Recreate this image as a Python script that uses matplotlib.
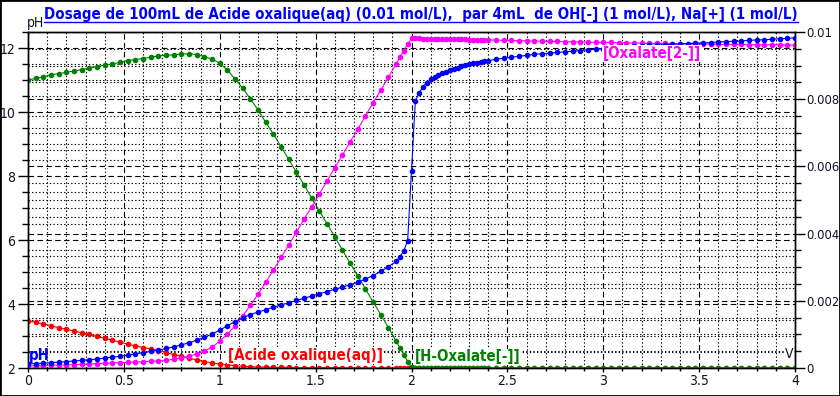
import matplotlib
matplotlib.use('Agg')
import matplotlib.pyplot as plt
from matplotlib.ticker import MultipleLocator, FixedLocator, FixedFormatter
from matplotlib.lines import Line2D
from matplotlib.patches import Rectangle

# volume de soude versé (mL)
V_ml = [0.0, 0.04, 0.08, 0.12, 0.16, 0.2, 0.24, 0.28, 0.32, 0.36,
        0.4, 0.44, 0.48, 0.52, 0.56, 0.6, 0.64, 0.68, 0.72, 0.76,
        0.8, 0.84, 0.88, 0.92, 0.96, 1.0, 1.04, 1.08, 1.12, 1.16,
        1.2, 1.24, 1.28, 1.32, 1.36, 1.4, 1.44, 1.48, 1.52, 1.56,
        1.6, 1.64, 1.68, 1.72, 1.76, 1.8, 1.84, 1.88,
        1.92, 1.94, 1.96, 1.98, 2.0, 2.02, 2.04, 2.06, 2.08, 2.1,
        2.12, 2.14, 2.16, 2.18, 2.2, 2.22, 2.24, 2.26, 2.28, 2.3,
        2.32, 2.34, 2.36, 2.38, 2.4,
        2.44, 2.48, 2.52, 2.56, 2.6, 2.64, 2.68, 2.72, 2.76, 2.8,
        2.84, 2.88, 2.92, 2.96, 3.0, 3.04, 3.08, 3.12, 3.16, 3.2,
        3.24, 3.28, 3.32, 3.36, 3.4, 3.44, 3.48, 3.52, 3.56, 3.6,
        3.64, 3.68, 3.72, 3.76, 3.8, 3.84, 3.88, 3.92, 3.96, 4.0]

ph = [2.13, 2.14, 2.15, 2.17, 2.18, 2.2, 2.22, 2.24, 2.26, 2.28,
      2.31, 2.34, 2.37, 2.4, 2.44, 2.48, 2.52, 2.56, 2.61, 2.66,
      2.72, 2.79, 2.87, 2.96, 3.06, 3.18, 3.32, 3.45, 3.57, 3.67,
      3.75, 3.82, 3.9, 3.97, 4.04, 4.11, 4.18, 4.25, 4.32, 4.39,
      4.46, 4.53, 4.6, 4.68, 4.78, 4.89, 5.02, 5.17,
      5.33, 5.48, 5.67, 5.98, 8.17, 10.34, 10.6, 10.79, 10.92, 11.02,
      11.1, 11.16, 11.21, 11.26, 11.31, 11.35, 11.39, 11.43, 11.46, 11.49,
      11.52, 11.54, 11.56, 11.58, 11.6,
      11.65, 11.68, 11.71, 11.74, 11.77, 11.8, 11.82, 11.84, 11.86, 11.88,
      11.9, 11.92, 11.94, 11.96, 11.98, 12.0, 12.02, 12.03, 12.05, 12.06,
      12.08, 12.09, 12.1, 12.12, 12.13, 12.14, 12.15, 12.16, 12.17, 12.19,
      12.2, 12.21, 12.22, 12.24, 12.25, 12.26, 12.27, 12.29, 12.3, 12.32]

# concentrations (mol/L)
c_acide = [0.00141, 0.00136, 0.00131, 0.00126, 0.0012, 0.00115, 0.0011, 0.00105, 0.001, 0.00094,
           0.00088, 0.00083, 0.00077, 0.00071, 0.00066, 0.00061, 0.00057, 0.00052, 0.00046, 0.0004,
           0.00035, 0.00029, 0.00024, 0.00019, 0.00015, 0.00012, 0.00009, 0.00007, 0.00005, 0.00004,
           0.00003, 0.00003, 0.00002, 0.00002, 0.00002, 0.00001, 0.00001, 0.00001, 0.00001, 0.00001,
           0.00001, 0.00001, 0.0, 0.0, 0.0, 0.0, 0.0, 0.0,
           0.0, 0.0, 0.0, 0.0, 0.0, 0.0, 0.0, 0.0, 0.0, 0.0,
           0.0, 0.0, 0.0, 0.0, 0.0, 0.0, 0.0, 0.0, 0.0, 0.0,
           0.0, 0.0, 0.0, 0.0, 0.0,
           0.0, 0.0, 0.0, 0.0, 0.0, 0.0, 0.0, 0.0, 0.0, 0.0,
           0.0, 0.0, 0.0, 0.0, 0.0, 0.0, 0.0, 0.0, 0.0, 0.0,
           0.0, 0.0, 0.0, 0.0, 0.0, 0.0, 0.0, 0.0, 0.0, 0.0,
           0.0, 0.0, 0.0, 0.0, 0.0, 0.0, 0.0, 0.0, 0.0, 0.0]

c_hox = [0.00857, 0.00862, 0.00866, 0.00873, 0.00876, 0.0088, 0.00884, 0.00888, 0.00893, 0.00897,
         0.00902, 0.00904, 0.0091, 0.00915, 0.00918, 0.00921, 0.00925, 0.00929, 0.00931, 0.00932,
         0.00935, 0.00935, 0.00933, 0.00927, 0.00919, 0.00907, 0.00887, 0.0086, 0.00832, 0.00801,
         0.00768, 0.00731, 0.00696, 0.00658, 0.00621, 0.00582, 0.00545, 0.00505, 0.00467, 0.00429,
         0.0039, 0.00351, 0.00312, 0.00274, 0.00235, 0.00197, 0.00158, 0.0012,
         0.0008, 0.0006, 0.0004, 0.00019, 0.00002, 0.0, 0.0, 0.0, 0.0, 0.0,
         0.0, 0.0, 0.0, 0.0, 0.0, 0.0, 0.0, 0.0, 0.0, 0.0,
         0.0, 0.0, 0.0, 0.0, 0.0,
         0.0, 0.0, 0.0, 0.0, 0.0, 0.0, 0.0, 0.0, 0.0, 0.0,
         0.0, 0.0, 0.0, 0.0, 0.0, 0.0, 0.0, 0.0, 0.0, 0.0,
         0.0, 0.0, 0.0, 0.0, 0.0, 0.0, 0.0, 0.0, 0.0, 0.0,
         0.0, 0.0, 0.0, 0.0, 0.0, 0.0, 0.0, 0.0, 0.0, 0.0]

c_ox = [0.00006, 0.00007, 0.00007, 0.00008, 0.00009, 0.00009, 0.0001, 0.00011, 0.00012, 0.00013,
        0.00014, 0.00015, 0.00016, 0.00017, 0.00018, 0.00019, 0.0002, 0.00021, 0.00023, 0.00026,
        0.0003, 0.00035, 0.00042, 0.0005, 0.00062, 0.0008, 0.00101, 0.00126, 0.00155, 0.00187,
        0.0022, 0.00255, 0.00292, 0.00329, 0.00366, 0.00405, 0.00443, 0.0048, 0.00518, 0.00557,
        0.00596, 0.00634, 0.00673, 0.00711, 0.0075, 0.0079, 0.00827, 0.00866,
        0.00905, 0.00925, 0.00944, 0.00964, 0.00981, 0.00981, 0.00981, 0.0098, 0.0098, 0.0098,
        0.0098, 0.00979, 0.00979, 0.00979, 0.00979, 0.00978, 0.00978, 0.00978, 0.00978, 0.00977,
        0.00977, 0.00977, 0.00977, 0.00976, 0.00976,
        0.00976, 0.00975, 0.00975, 0.00974, 0.00974, 0.00973, 0.00973, 0.00972, 0.00972, 0.00971,
        0.00971, 0.0097, 0.0097, 0.00969, 0.00969, 0.00969, 0.00968, 0.00968, 0.00967, 0.00967,
        0.00966, 0.00966, 0.00966, 0.00965, 0.00965, 0.00965, 0.00964, 0.00964, 0.00964, 0.00963,
        0.00963, 0.00963, 0.00963, 0.00962, 0.00962, 0.00962, 0.00962, 0.00962, 0.00961, 0.00961]

x_ticks = [0, 0.5, 1, 1.5, 2, 2.5, 3, 3.5, 4]
x_tick_labels = ['0', '0.5', '1', '1.5', '2', '2.5', '3', '3.5', '4']
ph_ticks = [2, 4, 6, 8, 10, 12]
c_ticks = [0, 0.002, 0.004, 0.006, 0.008, 0.01]
c_tick_labels = ['0', '0.002', '0.004', '0.006', '0.008', '0.01']

titre = 'Dosage de 100mL de Acide oxalique(aq) (0.01 mol/L),  par 4mL  de OH[-] (1 mol/L), Na[+] (1 mol/L)'

BLEU = '#0000ff'
ROUGE = '#ff0000'
VERT = '#008000'
MAGENTA = '#ff00ff'
ENCRE = '#10102a'

plt.rcParams['font.family'] = ['DejaVu Sans']
plt.rcParams['font.stretch'] = 'condensed'
W, H = 840, 396
fig = plt.figure(figsize=(W / 100, H / 100), dpi=100)
rect = [28 / W, 1 - 368 / H, (795 - 28) / W, (368 - 32) / H]

ax = fig.add_axes(rect)
ax2 = ax.twinx()
ax3 = fig.add_axes(rect, sharex=ax, sharey=ax)
ax3.patch.set_visible(False)
ax3.axis('off')

dash = (0, (5, 3))
dot = (0, (1.2, 2))
ax.set_xlim(0, 4)
ax.set_ylim(2, 12.5)
ax2.set_ylim(0, 0.01)

ax.xaxis.set_major_locator(FixedLocator(x_ticks))
ax.xaxis.set_major_formatter(FixedFormatter(x_tick_labels))
ax.xaxis.set_minor_locator(MultipleLocator(0.1))
ax.yaxis.set_major_locator(FixedLocator(ph_ticks))
ax.yaxis.set_minor_locator(MultipleLocator(0.5))
ax2.yaxis.set_major_locator(FixedLocator(c_ticks))
ax2.yaxis.set_major_formatter(FixedFormatter(c_tick_labels))
ax2.yaxis.set_minor_locator(MultipleLocator(0.0005))

for a in (ax, ax2):
    a.set_axisbelow(True)
ax.xaxis.grid(True, which='major', color='k', lw=0.8, ls=dash)
ax.xaxis.grid(True, which='minor', color='k', lw=0.8, ls=dot)
ax.yaxis.grid(True, which='major', color='k', lw=0.8, ls=dash)
ax.yaxis.grid(True, which='minor', color='k', lw=0.8, ls=dot)
ax2.yaxis.grid(True, which='major', color='k', lw=0.8, ls=dash)
ax2.yaxis.grid(True, which='minor', color='k', lw=0.8, ls=dot)

for a in (ax, ax2):
    for s in a.spines.values():
        s.set_linewidth(1.0)
ax.tick_params(axis='y', which='major', length=7, width=1, labelsize=10, pad=2,
               labelcolor=ENCRE)
ax.tick_params(axis='y', which='minor', length=4, width=1)
ax2.tick_params(axis='y', which='major', length=7, width=1, labelsize=9.3, pad=1,
                labelcolor=ENCRE)
ax2.tick_params(axis='y', which='minor', length=4, width=1)
ax.tick_params(axis='x', which='major', length=3, width=1, labelsize=10, pad=1,
               labelcolor=ENCRE)
ax.tick_params(axis='x', which='minor', length=2, width=1)

mk = dict(marker='o', markersize=3.0, lw=0.8)
ax2.plot(V_ml, c_acide, color=ROUGE, **mk)
ax2.plot(V_ml, c_hox, color=VERT, **mk)
ax2.plot(V_ml, c_ox, color=MAGENTA, **mk)
ax3.plot(V_ml, ph, color=BLEU, **mk)


def fx(px):
    return px / W


def fy(py):
    return 1 - py / H


t = fig.text(fx(421), fy(19), titre, color=BLEU, fontsize=11, fontweight='bold',
             ha='center', va='baseline')
fig.canvas.draw()
t.set_fontsize(t.get_fontsize() * 752 / t.get_window_extent().width)
fs = t.get_fontsize()

box = dict(facecolor='white', edgecolor='none', pad=0.5)
fig.text(fx(228), fy(360), '[Acide oxalique(aq)]', color=ROUGE, fontsize=fs,
         fontweight='bold', va='baseline', bbox=box)
fig.text(fx(415), fy(361.5), '[H-Oxalate[-]]', color=VERT, fontsize=fs,
         fontweight='bold', va='baseline', bbox=box)
fig.text(fx(603), fy(58), '[Oxalate[2-]]', color=MAGENTA, fontsize=fs,
         fontweight='bold', va='baseline', bbox=box)
fig.text(fx(29), fy(360), 'pH', color=BLEU, fontsize=fs, fontweight='bold',
         va='baseline')
fig.text(fx(27), fy(27), 'pH', color=ENCRE, fontsize=10, va='baseline')
fig.text(fx(785), fy(358), 'V', color=ENCRE, fontsize=10, va='baseline', bbox=box)

fig.canvas.draw()
bb = t.get_window_extent()
fig.add_artist(Line2D([bb.x0 / W, bb.x1 / W], [fy(21.5), fy(21.5)],
                      transform=fig.transFigure, color=BLEU, lw=1.0))
fig.add_artist(Rectangle((0, 0), 1, 1, transform=fig.transFigure, fill=False,
                         edgecolor='k', lw=2))

fig.savefig('out.png', dpi=100)
